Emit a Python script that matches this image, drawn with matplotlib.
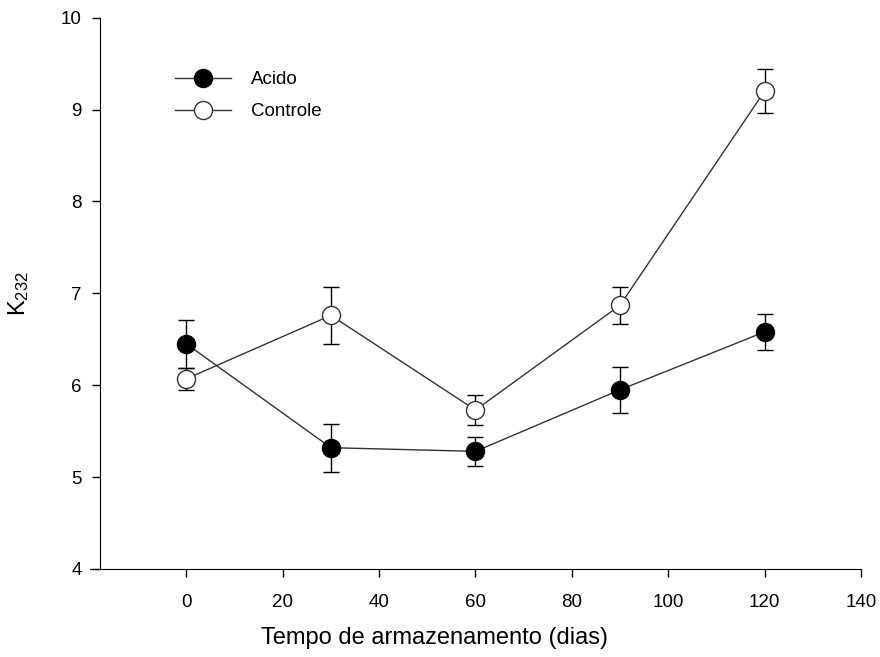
import matplotlib
matplotlib.use("Agg")
import matplotlib.pyplot as plt

plt.rcParams["font.family"] = ["Liberation Sans", "DejaVu Sans"]
plt.rcParams["mathtext.default"] = "regular"

# =========================
# DATA
# =========================
dias = [0, 30, 60, 90, 120]

acido = [6.45, 5.32, 5.28, 5.95, 6.58]
acido_err = [0.26, 0.26, 0.155, 0.25, 0.20]

controle = [6.07, 6.76, 5.73, 6.87, 9.20]
controle_err = [0.12, 0.31, 0.16, 0.20, 0.24]


# =========================
# PLOT
# =========================
fig = plt.figure(figsize=(8.8, 6.57), dpi=100)
ax = fig.add_axes([0.1023, 0.134, 0.876, 0.839])

ax.errorbar(dias, acido, yerr=acido_err, color="#333333", lw=1,
            marker="o", markersize=13, markerfacecolor="black",
            markeredgecolor="black", ecolor="black", elinewidth=1,
            capsize=6, capthick=1, label="Acido", zorder=3)
ax.errorbar(dias, controle, yerr=controle_err, color="#333333", lw=1,
            marker="o", markersize=13, markerfacecolor="white",
            markeredgecolor="#333333", ecolor="black", elinewidth=1,
            capsize=6, capthick=1, label="Controle", zorder=3)

ax.set_xlim(-20, 140)
ax.set_ylim(4, 10)
ax.set_xticks(range(0, 141, 20))
ax.set_yticks(range(4, 11))

ax.spines["top"].set_visible(False)
ax.spines["right"].set_visible(False)
ax.spines["left"].set_position(("data", -18))
ax.tick_params(direction="out", length=6, width=1, labelsize=13.5)
ax.tick_params(axis="x", pad=12)
ax.tick_params(axis="y", pad=7)

ax.set_xlabel("Tempo de armazenamento (dias)", fontsize=17)
ax.xaxis.set_label_coords(0.447, -0.105)
ax.set_ylabel("K$_{232}$", fontsize=17)
ax.yaxis.set_label_coords(-0.076, 0.5)

handles, labels = ax.get_legend_handles_labels()
handles = [h[0] for h in handles]
ax.legend(handles, labels, loc="upper left", bbox_to_anchor=(0.110, 0.903),
          frameon=False, fontsize=13.5, handlelength=3.0, handletextpad=1.05,
          labelspacing=0.8, borderpad=0, borderaxespad=0)

fig.savefig("out.png", dpi=100)
